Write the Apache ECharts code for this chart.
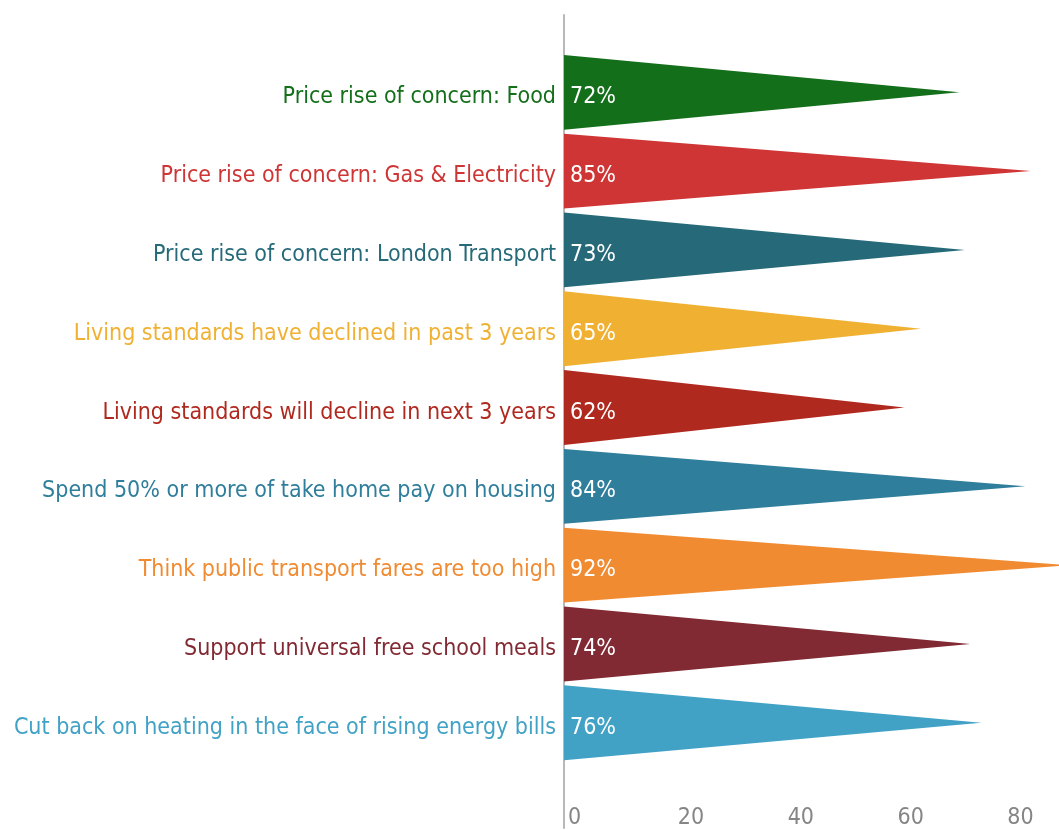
<!DOCTYPE html>
<html><head><meta charset="utf-8">
<script src="https://cdn.jsdelivr.net/npm/echarts@6/dist/echarts.min.js"></script>
<style>html,body{margin:0;padding:0;background:#fff}#c{width:1059px;height:830px}</style>
</head><body><div id="c"></div>
<script>
const categories = [
  "Price rise of concern: Food",
  "Price rise of concern: Gas & Electricity",
  "Price rise of concern: London Transport",
  "Living standards have declined in past 3 years",
  "Living standards will decline in next 3 years",
  "Spend 50% or more of take home pay on housing",
  "Think public transport fares are too high",
  "Support universal free school meals",
  "Cut back on heating in the face of rising energy bills"
];
const values = [72, 85, 73, 65, 62, 84, 92, 74, 76];
const colors = ["#146f1a", "#cf3535", "#266a79", "#f0b133", "#b0291f", "#2f7e9b", "#f08b32", "#822a33", "#41a2c6"];
const xTicks = [0, 20, 40, 60, 80];

const FONT = '"Liberation Sans Narrow", "DejaVu Sans Condensed", sans-serif';
const chart = echarts.init(document.getElementById('c'));
chart.setOption({
  animation: false,
  grid: {left: 564, right: 0, top: 15, bottom: 0},
  xAxis: {
    type: 'value', min: 0, max: 89.6, interval: 20,
    axisLine: {show: false}, axisTick: {show: false}, splitLine: {show: false},
    axisLabel: {
      inside: true, margin: -2, align: 'left', verticalAlign: 'bottom',
      padding: [0, 0, 0, 4], color: '#858585', fontSize: 23, fontFamily: FONT,
      formatter: v => xTicks.includes(v) ? String(v) : ''
    }
  },
  yAxis: {
    type: 'value', inverse: true, min: -0.981, max: 9.335,
    axisLine: {show: true, lineStyle: {color: '#b8b8b8', width: 2}},
    axisTick: {show: false}, axisLabel: {show: false}, splitLine: {show: false}
  },
  series: [{
    type: 'custom',
    clip: false,
    data: values.map((v, i) => [v, i]),
    renderItem: function (params, api) {
      const v = api.value(0), i = api.value(1);
      const s = api.coord([0, i]);
      const e = api.coord([v, i]);
      const h = api.size([0, 1])[1] * 0.95;
      return {
        type: 'group',
        children: [
          {type: 'polygon', shape: {points: [[s[0], s[1] - h / 2], [e[0], e[1]], [s[0], s[1] + h / 2]]},
           style: {fill: colors[i]}},
          {type: 'text', style: {text: v + '%', x: s[0] + 6, y: s[1] + 5, align: 'left', verticalAlign: 'middle',
            fill: '#ffffff', font: '23px ' + FONT}},
          {type: 'text', style: {text: categories[i], x: s[0] - 8, y: s[1] + 5, align: 'right', verticalAlign: 'middle',
            fill: colors[i], font: '23px ' + FONT}}
        ]
      };
    }
  }]
});
</script></body></html>
